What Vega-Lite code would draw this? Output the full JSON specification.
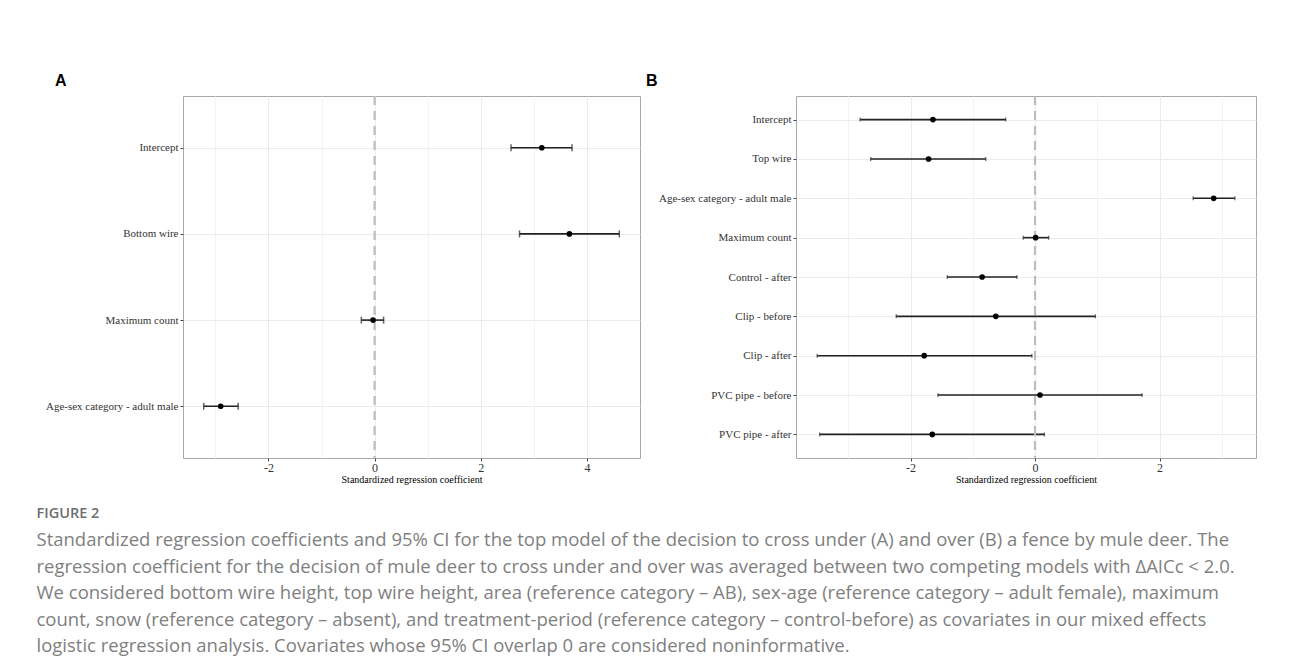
{
  "$schema": "https://vega.github.io/schema/vega-lite/v6.json",
  "background": "white",
  "padding": {"left": 36, "top": 72, "right": 30, "bottom": 0},
  "datasets": {
    "panelA": [
      {"term": "Intercept", "est": 3.15, "lo": 2.57, "hi": 3.72},
      {"term": "Bottom wire", "est": 3.67, "lo": 2.73, "hi": 4.61},
      {"term": "Maximum count", "est": -0.03, "lo": -0.25, "hi": 0.17},
      {"term": "Age-sex category - adult male", "est": -2.9, "lo": -3.22, "hi": -2.57}
    ],
    "panelB": [
      {"term": "Intercept", "est": -1.64, "lo": -2.81, "hi": -0.47},
      {"term": "Top wire", "est": -1.71, "lo": -2.64, "hi": -0.79},
      {"term": "Age-sex category - adult male", "est": 2.87, "lo": 2.54, "hi": 3.21},
      {"term": "Maximum count", "est": 0.01, "lo": -0.19, "hi": 0.22},
      {"term": "Control - after", "est": -0.85, "lo": -1.41, "hi": -0.29},
      {"term": "Clip - before", "est": -0.63, "lo": -2.23, "hi": 0.97},
      {"term": "Clip - after", "est": -1.78, "lo": -3.5, "hi": -0.05},
      {"term": "PVC pipe - before", "est": 0.08, "lo": -1.56, "hi": 1.72},
      {"term": "PVC pipe - after", "est": -1.65, "lo": -3.46, "hi": 0.15}
    ]
  },
  "title": {
    "text": "FIGURE 2",
    "subtitle": [
      "Standardized regression coefficients and 95% CI for the top model of the decision to cross under (A) and over (B) a fence by mule deer. The",
      "regression coefficient for the decision of mule deer to cross under and over was averaged between two competing models with ΔAICc < 2.0.",
      "We considered bottom wire height, top wire height, area (reference category – AB), sex-age (reference category – adult female), maximum",
      "count, snow (reference category – absent), and treatment-period (reference category – control-before) as covariates in our mixed effects",
      "logistic regression analysis. Covariates whose 95% CI overlap 0 are considered noninformative."
    ],
    "orient": "bottom",
    "anchor": "start",
    "frame": "bounds",
    "offset": 22,
    "dx": -6,
    "font": "Open Sans",
    "fontSize": 14.5,
    "fontWeight": 600,
    "color": "#6e6e6e",
    "subtitleFont": "Open Sans",
    "subtitleFontSize": 18.5,
    "subtitleFontWeight": "normal",
    "subtitleColor": "#7f7f7f",
    "subtitleLineHeight": 26.5,
    "subtitlePadding": 10
  },
  "spacing": 4,
  "hconcat": [
    {
      "width": 457,
      "height": 362,
      "title": {"text": "A", "anchor": "start", "frame": "bounds", "offset": 6, "dx": 12},
      "data": {"name": "panelA"},
      "layer": [
        {
          "mark": {"type": "rule", "color": "#222222", "strokeWidth": 1.6},
          "encoding": {
            "y": {"field": "term", "type": "nominal", "sort": ["Intercept", "Bottom wire", "Maximum count", "Age-sex category - adult male"], "scale": {"type": "point", "padding": 0.6}, "axis": {"title": null}},
            "x": {"field": "lo", "type": "quantitative", "scale": {"domain": [-3.61, 5.0], "nice": false, "zero": false},
              "axis": {
                "title": "Standardized regression coefficient",
                "values": [-3, -2, -1, 0, 1, 2, 3, 4],
                "labelExpr": "datum.value % 2 == 0 ? '' + datum.value : ''",
                "tickColor": {"condition": {"test": "datum.value % 2 == 0", "value": "#444444"}, "value": "transparent"},
                "gridColor": {"condition": {"test": "datum.value % 2 == 0", "value": "#ebebeb"}, "value": "#f4f4f4"}
              }},
            "x2": {"field": "hi"}
          }
        },
        {
          "mark": {"type": "tick", "orient": "vertical", "size": 7, "thickness": 1.5, "color": "#222222"},
          "encoding": {
            "y": {"field": "term", "type": "nominal", "sort": ["Intercept", "Bottom wire", "Maximum count", "Age-sex category - adult male"]},
            "x": {"field": "lo", "type": "quantitative"}
          }
        },
        {
          "mark": {"type": "tick", "orient": "vertical", "size": 7, "thickness": 1.5, "color": "#222222"},
          "encoding": {
            "y": {"field": "term", "type": "nominal", "sort": ["Intercept", "Bottom wire", "Maximum count", "Age-sex category - adult male"]},
            "x": {"field": "hi", "type": "quantitative"}
          }
        },
        {
          "data": {"values": [{"zero": 0}]},
          "mark": {"type": "rule", "color": "#bdbdbd", "strokeWidth": 2.2, "strokeDash": [9, 6]},
          "encoding": {"x": {"field": "zero", "type": "quantitative"}}
        },
        {
          "mark": {"type": "point", "filled": true, "color": "black", "opacity": 1, "size": 32},
          "encoding": {
            "y": {"field": "term", "type": "nominal", "sort": ["Intercept", "Bottom wire", "Maximum count", "Age-sex category - adult male"]},
            "x": {"field": "est", "type": "quantitative"}
          }
        }
      ]
    },
    {
      "width": 460,
      "height": 362,
      "title": {"text": "B", "anchor": "start", "frame": "bounds", "offset": 6, "dx": -10},
      "data": {"name": "panelB"},
      "layer": [
        {
          "mark": {"type": "rule", "color": "#222222", "strokeWidth": 1.6},
          "encoding": {
            "y": {"field": "term", "type": "nominal", "sort": ["Intercept", "Top wire", "Age-sex category - adult male", "Maximum count", "Control - after", "Clip - before", "Clip - after", "PVC pipe - before", "PVC pipe - after"], "scale": {"type": "point", "padding": 0.6}, "axis": {"title": null}},
            "x": {"field": "lo", "type": "quantitative", "scale": {"domain": [-3.84, 3.55], "nice": false, "zero": false},
              "axis": {
                "title": "Standardized regression coefficient",
                "values": [-3, -2, -1, 0, 1, 2, 3],
                "labelExpr": "datum.value % 2 == 0 ? '' + datum.value : ''",
                "tickColor": {"condition": {"test": "datum.value % 2 == 0", "value": "#444444"}, "value": "transparent"},
                "gridColor": {"condition": {"test": "datum.value % 2 == 0", "value": "#ebebeb"}, "value": "#f4f4f4"}
              }},
            "x2": {"field": "hi"}
          }
        },
        {
          "mark": {"type": "tick", "orient": "vertical", "size": 4, "thickness": 1.2, "color": "#222222"},
          "encoding": {
            "y": {"field": "term", "type": "nominal", "sort": ["Intercept", "Top wire", "Age-sex category - adult male", "Maximum count", "Control - after", "Clip - before", "Clip - after", "PVC pipe - before", "PVC pipe - after"]},
            "x": {"field": "lo", "type": "quantitative"}
          }
        },
        {
          "mark": {"type": "tick", "orient": "vertical", "size": 4, "thickness": 1.2, "color": "#222222"},
          "encoding": {
            "y": {"field": "term", "type": "nominal", "sort": ["Intercept", "Top wire", "Age-sex category - adult male", "Maximum count", "Control - after", "Clip - before", "Clip - after", "PVC pipe - before", "PVC pipe - after"]},
            "x": {"field": "hi", "type": "quantitative"}
          }
        },
        {
          "data": {"values": [{"zero": 0}]},
          "mark": {"type": "rule", "color": "#bdbdbd", "strokeWidth": 2.2, "strokeDash": [9, 6]},
          "encoding": {"x": {"field": "zero", "type": "quantitative"}}
        },
        {
          "mark": {"type": "point", "filled": true, "color": "black", "opacity": 1, "size": 32},
          "encoding": {
            "y": {"field": "term", "type": "nominal", "sort": ["Intercept", "Top wire", "Age-sex category - adult male", "Maximum count", "Control - after", "Clip - before", "Clip - after", "PVC pipe - before", "PVC pipe - after"]},
            "x": {"field": "est", "type": "quantitative"}
          }
        }
      ]
    }
  ],
  "config": {
    "view": {"stroke": "#a8a8a8", "strokeWidth": 1},
    "title": {"font": "Liberation Sans", "fontSize": 16, "fontWeight": "bold", "color": "black"},
    "axis": {
      "domain": false,
      "grid": true,
      "gridColor": "#ebebeb",
      "gridWidth": 1,
      "tickSize": 3,
      "tickColor": "#444444",
      "labelFont": "Liberation Serif",
      "labelColor": "#333333",
      "titleFont": "Liberation Serif",
      "titleFontWeight": "normal",
      "titleColor": "black"
    },
    "axisX": {"labelFontSize": 12, "labelPadding": 1, "titleFontSize": 10, "titlePadding": 1},
    "axisY": {"labelFontSize": 11, "labelPadding": 2, "minExtent": 140, "maxExtent": 140}
  }
}
